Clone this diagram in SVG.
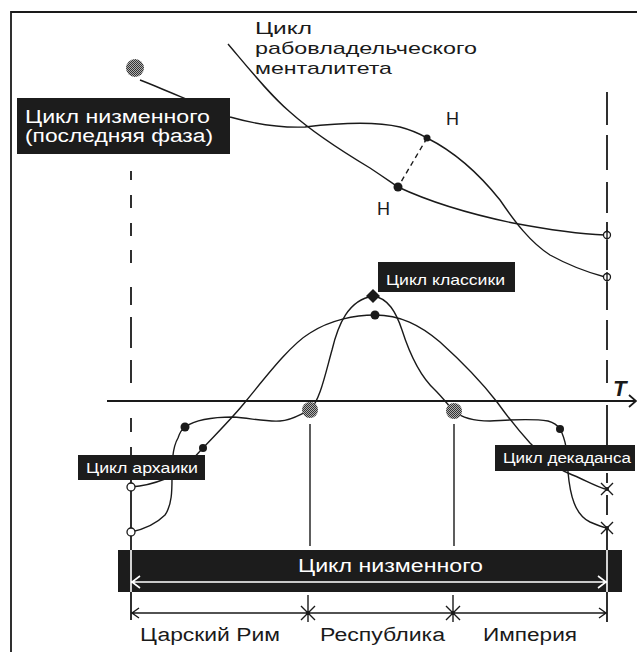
<svg xmlns="http://www.w3.org/2000/svg" width="637" height="652" viewBox="0 0 637 652">
<defs>
<pattern id="dots" width="2" height="2" patternUnits="userSpaceOnUse"><rect width="2" height="2" fill="#b0b0b0"/><rect width="1" height="1" fill="#333"/><rect x="1" y="1" width="1" height="1" fill="#333"/></pattern>
<style>
.ln{fill:none;stroke:#1a1a1a;stroke-width:1.4}
.th{fill:none;stroke:#1a1a1a;stroke-width:1.8}
.wl{fill:none;stroke:#fff;stroke-width:1.6}
.box{fill:#1c1c1c}
.wt{fill:#fff;font-family:"Liberation Sans",Arial,sans-serif}
.bt{fill:#1a1a1a;font-family:"Liberation Sans",Arial,sans-serif}
.grey{fill:url(#dots)}
.dot{fill:#1a1a1a}
.oc{fill:#fff;stroke:#1a1a1a;stroke-width:1.3}
</style>
</defs>
<rect width="637" height="652" fill="#fff"/>
<g id="frame"><path class="th" d="M11,652 V12 H637"/></g>

<g id="connectors">
<path class="th" d="M131,171V180M131,195V208M131,223V236M131,250V263M131,287V305M131,317V348M131,360V383M131,418V432M131,447V456M131,480V550M131,592V620"/>
<path class="th" d="M607,92V125M607,135V170M607,182V213M607,222V231M607,240V270M607,282V310M607,320V350M607,360V383M607,405V447M607,473V483M607,495V515M607,528V550M607,592V622"/>
<path class="ln" d="M310,424V546M454,424V546"/>
<path class="th" d="M107,401H636M629,395L636,401L629,407"/>
<path id="c-nizmennoe-top" class="ln" d="M140,80 C165,90 200,105 230,117 C255,124 280,128 305,127 C330,124 370,120 400,127 C415,131 420,134 427,138 C455,152 480,175 500,200 C515,222 530,242 550,255 C570,266 590,273 605,277"/>
<path id="c-rabovlad" class="ln" d="M228,44 C250,70 270,95 290,112 C310,130 340,150 370,168 C385,178 392,183 398,187 C430,202 470,214 513,223 C545,229 580,234 605,235"/>
<path id="c-link" class="ln" stroke-dasharray="5,4" d="M427,138L398,187"/>
<path id="c-broad" class="ln" d="M131,487 C145,486 155,483 165,479 C185,470 195,456 203,448 C220,430 235,415 246,401 C265,378 290,345 310,333 C330,320 355,315 375,315 C400,315 420,325 440,342 C460,360 480,380 497,402 C510,420 520,432 530,443 C545,458 555,468 568,473 C585,480 595,486 605,489"/>
<path id="c-peak" class="ln" d="M131,532 C145,529 157,523 165,515 C172,505 172,490 172,478 C172,465 172,448 178,438 C180,432 182,429 185,427 C195,420 210,417 233,417 C250,418 265,422 280,421 C293,420 300,414 310,410 C320,400 325,375 332,350 C338,325 348,300 373,296 C388,298 396,312 402,330 C410,355 422,378 435,390 C443,398 448,405 454,411 C462,418 475,421 490,421 C510,420 530,418 548,421 C555,423 558,426 560,429 C565,438 568,450 568,472 C570,495 575,515 590,522 C597,525 602,527 607,528"/>
</g>

<g id="n-nizmennoe-last">
<rect class="box" x="17" y="98" width="213" height="56"/>
<text class="wt" x="25" y="123" font-size="18" textLength="185" lengthAdjust="spacingAndGlyphs">Цикл низменного</text>
<text class="wt" x="25" y="142" font-size="18" textLength="188" lengthAdjust="spacingAndGlyphs">(последняя фаза)</text>
</g>
<g id="n-rabovlad-label">
<text class="bt" x="255" y="34" font-size="17" textLength="57" lengthAdjust="spacingAndGlyphs">Цикл</text>
<text class="bt" x="255" y="54" font-size="17" textLength="222" lengthAdjust="spacingAndGlyphs">рабовладельческого</text>
<text class="bt" x="255" y="74" font-size="17" textLength="137" lengthAdjust="spacingAndGlyphs">менталитета</text>
</g>
<g id="n-start"><circle class="grey" cx="135" cy="68" r="9"/></g>
<g id="n-H1"><circle class="dot" cx="427" cy="138" r="3.5"/><text class="bt" x="446" y="125" font-size="18">Н</text></g>
<g id="n-H2"><circle class="dot" cx="398" cy="187" r="4.5"/><text class="bt" x="377" y="215" font-size="18">Н</text></g>
<g id="n-end-top">
<circle class="oc" cx="607" cy="235" r="3.5"/><path class="ln" d="M607,230V240"/>
<circle class="oc" cx="607" cy="277" r="3.5"/><path class="ln" d="M607,272V282"/>
</g>

<g id="n-klassika">
<rect class="box" x="378" y="262" width="137" height="30"/>
<text class="wt" x="386" y="285" font-size="15" textLength="119" lengthAdjust="spacingAndGlyphs">Цикл классики</text>
<path class="dot" d="M373,289L380,296L373,303L366,296Z"/>
<circle class="dot" cx="375" cy="315" r="4.5"/>
</g>
<g id="n-T"><text x="613" y="396" font-size="22" font-weight="bold" font-style="italic" font-family="Liberation Sans, Arial, sans-serif" fill="#1a1a1a">T</text></g>

<g id="n-grey-mid">
<circle class="grey" cx="310" cy="410" r="8"/>
<circle class="grey" cx="454" cy="411" r="8"/>
</g>
<g id="n-dots-low">
<circle class="dot" cx="185" cy="427" r="4.5"/>
<circle class="dot" cx="203" cy="448" r="4"/>
<circle class="dot" cx="560" cy="429" r="4"/>
</g>

<g id="n-arhaika">
<rect class="box" x="78" y="455" width="127" height="25"/>
<text class="wt" x="86" y="473" font-size="14" textLength="112" lengthAdjust="spacingAndGlyphs">Цикл архаики</text>
</g>
<g id="n-dekadans">
<rect class="box" x="495" y="445" width="140" height="26"/>
<text class="wt" x="503" y="463" font-size="14" textLength="128" lengthAdjust="spacingAndGlyphs">Цикл декаданса</text>
</g>
<g id="n-ends-low">
<circle class="oc" cx="131" cy="487" r="4"/>
<circle class="oc" cx="131" cy="532" r="4"/>
<path class="ln" d="M601,483L613,495M613,483L601,495M601,522L613,534M613,522L601,534"/>
<circle class="dot" cx="607" cy="489" r="2"/>
<circle class="dot" cx="607" cy="528" r="2"/>
</g>

<g id="n-nizmennoe-bar">
<rect class="box" x="118" y="550" width="504" height="42"/>
<text class="wt" x="298" y="572" font-size="18" textLength="185" lengthAdjust="spacingAndGlyphs">Цикл низменного</text>
<path class="wl" d="M131,550V592M607,550V592M131,582H607M140,576L132,582L140,588M598,576L606,582L598,588"/>
</g>

<g id="n-periods">
<path class="ln" d="M131,613H607M139,608L132,613L139,618M599,608L606,613L599,618"/>
<path class="ln" d="M308,595V622M301,606L315,620M315,606L301,620M453,595V622M446,606L460,620M460,606L446,620"/>
<circle class="dot" cx="308" cy="613" r="2"/>
<circle class="dot" cx="453" cy="613" r="2"/>
<text class="bt" x="140" y="641" font-size="18" textLength="140" lengthAdjust="spacingAndGlyphs">Царский Рим</text>
<text class="bt" x="320" y="641" font-size="18" textLength="125" lengthAdjust="spacingAndGlyphs">Республика</text>
<text class="bt" x="483" y="641" font-size="18" textLength="94" lengthAdjust="spacingAndGlyphs">Империя</text>
</g>
</svg>
